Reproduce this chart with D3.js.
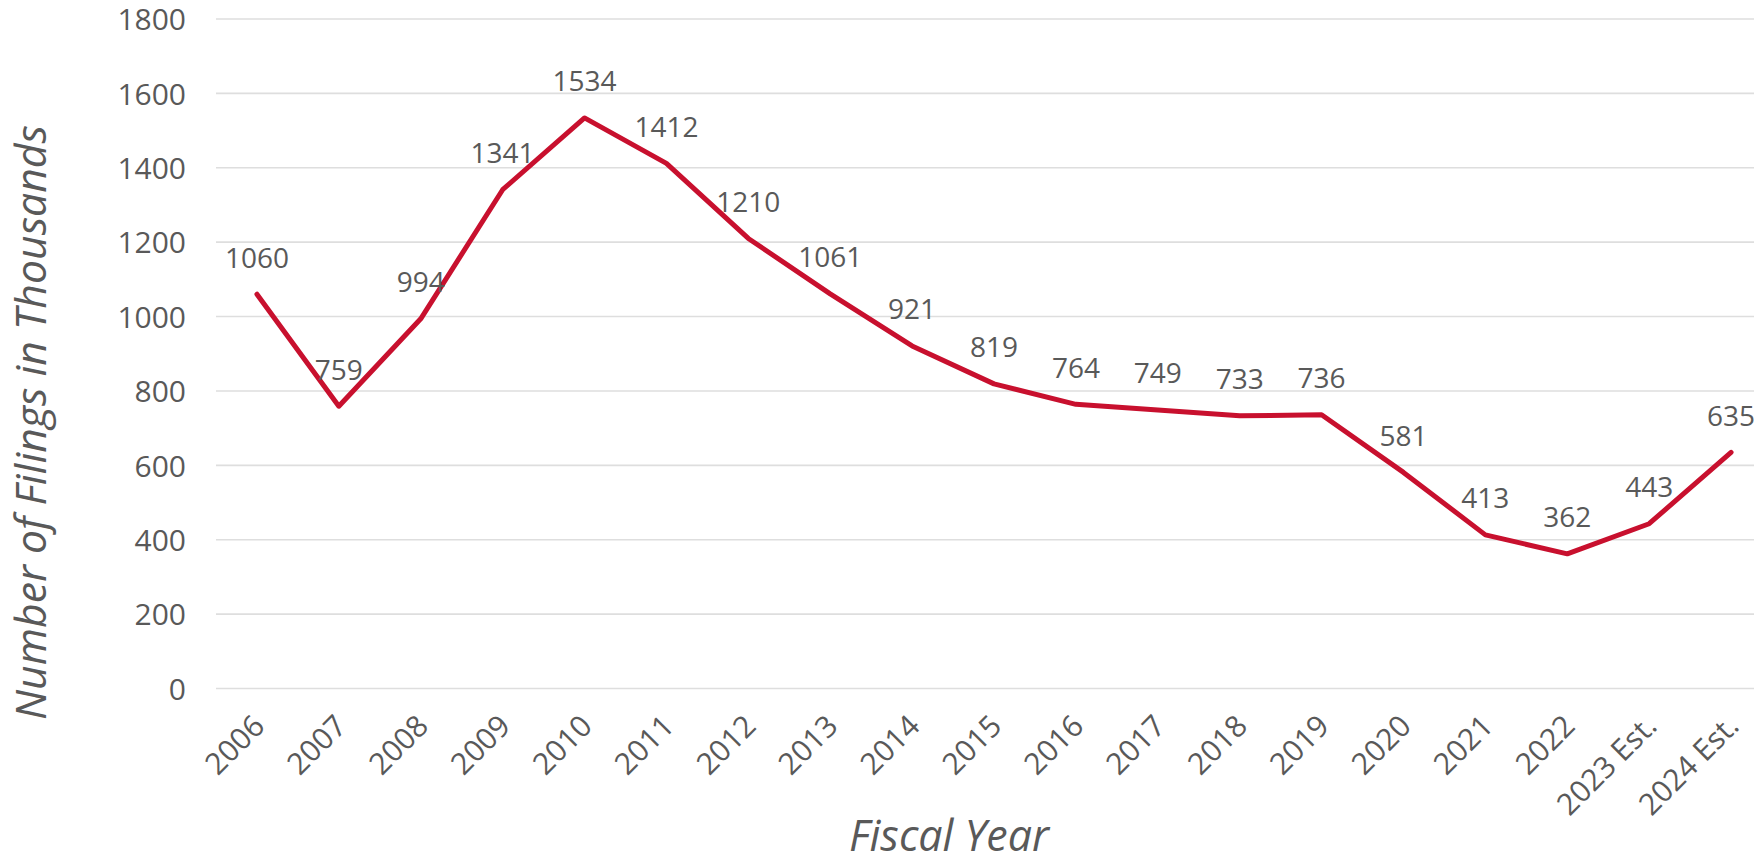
<!DOCTYPE html>
<html>
<head>
<meta charset="utf-8">
<script src="https://cdn.jsdelivr.net/npm/d3@7"></script>
<style>
  html, body { margin: 0; padding: 0; background: #ffffff; }
  svg { display: block; }
  text { font-family: "Open Sans", "Noto Sans", sans-serif; fill: #595959; font-weight: 400; }
</style>
</head>
<body>
<svg id="chart" width="1754" height="858"></svg>
<script>
const categories = ["2006","2007","2008","2009","2010","2011","2012","2013","2014","2015",
                    "2016","2017","2018","2019","2020","2021","2022","2023 Est.","2024 Est."];
const filings = [1060, 759, 994, 1341, 1534, 1412, 1210, 1061, 921, 819,
                 764, 749, 733, 736, 581, 413, 362, 443, 635];
const yTicks = [0, 200, 400, 600, 800, 1000, 1200, 1400, 1600, 1800];
const yTitle = "Number of Filings in Thousands";
const xTitle = "Fiscal Year";

const svg = d3.select("#chart");
svg.append("rect").attr("width", 1754).attr("height", 858).attr("fill", "#ffffff");

const x = d3.scaleBand().domain(categories).range([216, 1772]).padding(0);
const y = d3.scaleLinear().domain([0, 1800]).range([688.5, 19]);
const cx = d => x(d) + x.bandwidth() / 2;

// gridlines
svg.append("g").selectAll("line").data(yTicks).join("line")
  .attr("x1", 216).attr("x2", 1772)
  .attr("y1", d => y(d)).attr("y2", d => y(d))
  .attr("stroke", "#dedede").attr("stroke-width", 1.6);

// y labels via axis
const yAxis = d3.axisLeft(y).tickValues(yTicks).tickFormat(d3.format("d")).tickSize(0).tickPadding(0);
const gy = svg.append("g").attr("transform", "translate(186,0)").call(yAxis);
gy.select(".domain").remove();
gy.selectAll("text")
  .attr("x", 0).attr("dy", "0.36em")
  .style("font-size", "30px").style("font-family", "'Open Sans', sans-serif")
  .style("font-weight", 400)
  .attr("fill", "#595959").attr("text-anchor", "end");

// x axis labels
const xAxis = d3.axisBottom(x).tickSize(0).tickPadding(0);
const gx = svg.append("g").attr("transform", "translate(0,688.5)").call(xAxis);
gx.select(".domain").remove();
gx.selectAll(".tick text")
  .attr("y", 0).attr("dy", "0.35em")
  .attr("text-anchor", "end")
  .attr("transform", "translate(2,32) rotate(-45)")
  .style("font-size", "30px").style("font-family", "'Open Sans', sans-serif")
  .style("font-weight", 400)
  .attr("fill", "#595959");

// line
const line = d3.line().x((d, i) => cx(categories[i])).y(d => y(d));
svg.append("path").datum(filings)
  .attr("d", line)
  .attr("fill", "none")
  .attr("stroke", "#c8102e")
  .attr("stroke-width", 5)
  .attr("stroke-linejoin", "round")
  .attr("stroke-linecap", "round");

// data labels
svg.append("g").selectAll("text").data(filings).join("text")
  .attr("x", (d, i) => cx(categories[i]))
  .attr("y", d => y(d) - 26.5)
  .attr("text-anchor", "middle")
  .style("font-size", "28px")
  .text(d => d);

// axis titles
const yt = svg.append("text")
  .attr("transform", "translate(46,422.5) rotate(-90)")
  .attr("text-anchor", "middle")
  .style("font-style", "italic")
  .style("font-size", "36px")
  .text(yTitle);
const ytLen = yt.node().getComputedTextLength();
yt.style("font-size", (36 * 595 / ytLen).toFixed(2) + "px");

const xt = svg.append("text")
  .attr("x", 949).attr("y", 851)
  .attr("text-anchor", "middle")
  .style("font-style", "italic")
  .style("font-size", "36px")
  .text(xTitle);
const xtLen = xt.node().getComputedTextLength();
xt.style("font-size", (36 * 200 / xtLen).toFixed(2) + "px");
</script>
</body>
</html>
